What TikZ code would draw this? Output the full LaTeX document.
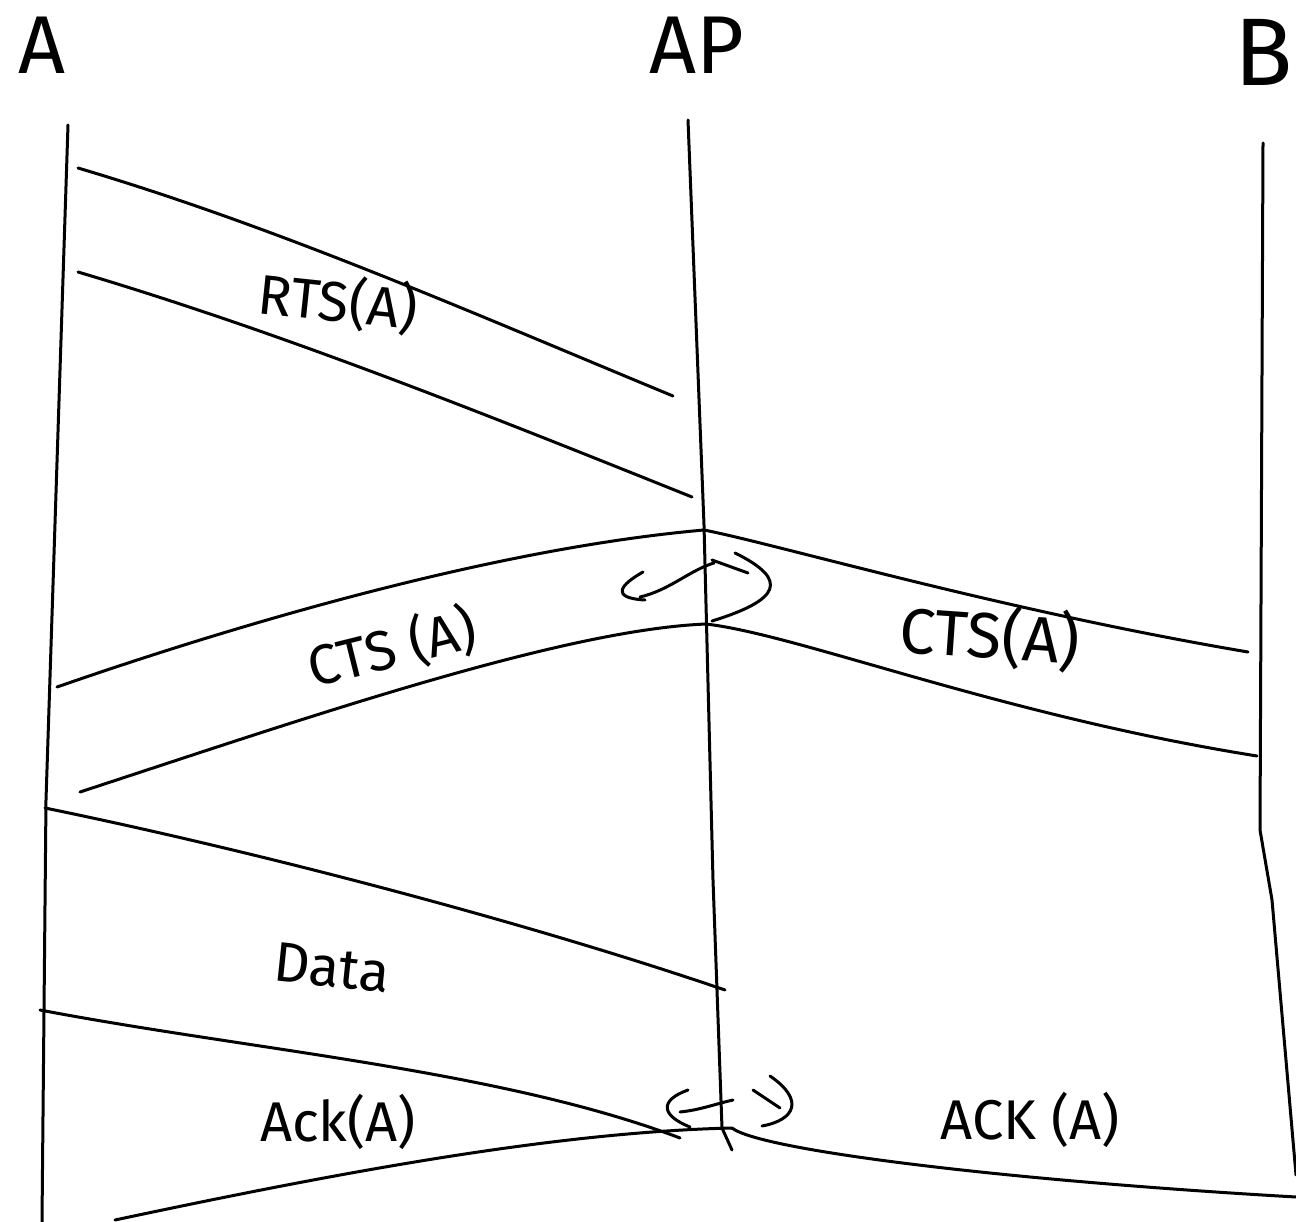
\documentclass[tikz,border=0pt]{standalone}
\usepackage{fontspec}
\setmainfont{Fira Sans}
\begin{document}
\begin{tikzpicture}[x=1pt,y=-1pt,
  stroke/.style={line width=3pt,line cap=round,line join=round},
  head/.style={font=\fontsize{82}{90}\selectfont,inner sep=0pt},
  lbl/.style={font=\fontsize{56}{64}\selectfont,inner sep=0pt}]
\useasboundingbox (0,0) rectangle (1296,1222);
% station labels
\node[head] (hA) at (42,45) {A};
\node[head] (hAP) at (697,45) {AP};
\node[head,anchor=west,font=\fontsize{96}{100}\selectfont] (hB) at (1234,52) {B};
% life lines
\coordinate (a0) at (68,125); \coordinate (a1) at (46,800); \coordinate (a2) at (42,1222);
\coordinate (p0) at (688,120); \coordinate (p1) at (704,525); \coordinate (p2) at (713,880);
\coordinate (p3) at (722,1128); \coordinate (p4) at (732,1150);
\coordinate (b0) at (1263,143); \coordinate (b1) at (1260,830); \coordinate (b2) at (1272,900); \coordinate (b3) at (1296,1175);
\draw[stroke] (a0) -- (a1) -- (a2);
\draw[stroke] (p0) -- (p1) -- (p2) -- (p3) -- (p4);
\draw[stroke] (b0) -- (b1) -- (b2) -- (b3);
% RTS band
\coordinate (r1s) at (78,168); \coordinate (r1e) at (673,396);
\coordinate (r2s) at (78,272); \coordinate (r2e) at (692,497);
\draw[stroke] (r1s) .. controls (280,228) and (470,312) .. (r1e);
\draw[stroke] (r2s) .. controls (280,332) and (480,412) .. (r2e);
\node[lbl,rotate=-6] (rts) at (338,302) {RTS(A)};
% CTS left band
\coordinate (c1s) at (57,687); \coordinate (c1e) at (704,530);
\coordinate (c2s) at (80,792); \coordinate (c2e) at (706,624);
\draw[stroke] (c1s) .. controls (250,620) and (500,548) .. (c1e);
\draw[stroke] (c2s) .. controls (300,720) and (560,630) .. (c2e);
\node[lbl,rotate=14] (ctsl) at (392,648) {CTS (A)};
% CTS right band
\coordinate (d1e) at (1248,652); \coordinate (d2e) at (1257,756);
\draw[stroke] (c1e) .. controls (780,545) and (1000,610) .. (d1e);
\draw[stroke] (c2e) .. controls (800,635) and (1000,715) .. (d2e);
\node[lbl,font=\fontsize{64}{70}\selectfont,rotate=-4] (ctsr) at (990,636) {CTS(A)};
% curly double arrow at AP (CTS)
\draw[stroke] (640,597) .. controls (670,590) and (690,570) .. (714,563);
\draw[stroke] (643,572) .. controls (620,585) and (610,598) .. (645,600);
\draw[stroke] (712,560) -- (748,573);
\draw[stroke] (735,553) .. controls (790,580) and (780,600) .. (712,621);
% Data band
\coordinate (e1s) at (45,808); \coordinate (e1e) at (725,990);
\coordinate (e2s) at (40,1010); \coordinate (e2e) at (680,1138);
\draw[stroke] (e1s) .. controls (250,850) and (520,920) .. (e1e);
\draw[stroke] (e2s) .. controls (250,1050) and (500,1070) .. (e2e);
\node[lbl,rotate=-6] (data) at (332,968) {Data};
% ACK band
\coordinate (k1s) at (115,1220); \coordinate (k1e) at (732,1128);
\coordinate (k2e) at (1296,1197);
\draw[stroke] (k1s) .. controls (350,1170) and (560,1132) .. (k1e);
\draw[stroke] (k1e) .. controls (760,1150) and (1000,1180) .. (k2e);
\node[lbl] (ackl) at (338,1122) {Ack(A)};
\node[lbl] (ackr) at (1030,1120) {ACK (A)};
% curly double arrow at AP (ACK)
\draw[stroke] (680,1112) .. controls (700,1110) and (715,1104) .. (733,1100);
\draw[stroke] (688,1090) .. controls (660,1100) and (660,1115) .. (690,1127);
\draw[stroke] (753,1090) -- (780,1108);
\draw[stroke] (770,1076) .. controls (805,1100) and (795,1120) .. (762,1126);
\end{tikzpicture}
\end{document}
